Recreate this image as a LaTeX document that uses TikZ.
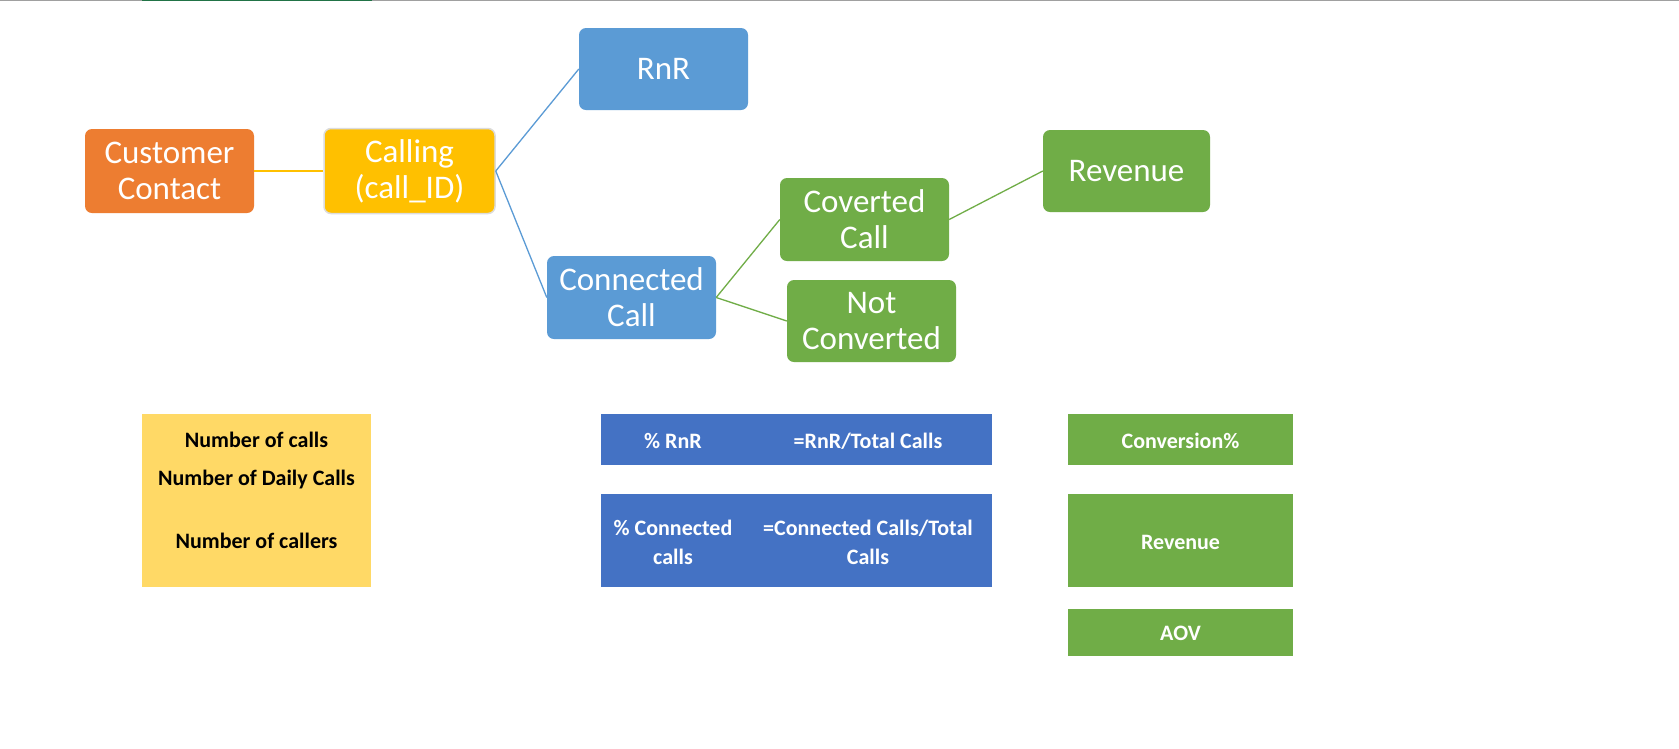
\documentclass[tikz,border=0pt]{standalone}
\usepackage{fontspec}
\setmainfont{Carlito}
\definecolor{cOrange}{HTML}{ED7D31}
\definecolor{cGold}{HTML}{FFC000}
\definecolor{cSky}{HTML}{5B9BD5}
\definecolor{cGreen}{HTML}{70AD47}
\definecolor{cBlue}{HTML}{4472C4}
\definecolor{cPale}{HTML}{FFD966}
\definecolor{cRule}{HTML}{A0A0A0}
\definecolor{cXl}{HTML}{217346}
\definecolor{cEdge}{HTML}{DCDCDC}
\tikzset{
  topbox/.style={rounded corners=7pt, inner sep=0pt, text=white, align=center,
    font=\fontsize{33}{36}\selectfont},
  flatbox/.style={inner sep=0pt, draw=none},
  lbl/.style={inner sep=0pt, align=center, font=\fontsize{22}{29}\selectfont\bfseries},
  link/.style={line width=1.3pt}
}
\begin{document}
\begin{tikzpicture}[x=1pt,y=-1pt]
\useasboundingbox (0,0) rectangle (1679,748);
\fill[white] (0,0) rectangle (1679,748);
% top rule
\fill[cRule] (0,0) rectangle (1679,1.2);
\fill[cXl] (142,0) rectangle (372,1.4);

% tree nodes
\node[topbox, fill=cOrange, minimum width=169pt, minimum height=84pt] (cust) at (169.5,171) {Customer\\Contact};
\node[topbox, fill=cGold, draw=cEdge, line width=1.5pt, minimum width=171pt, minimum height=85pt] (call) at (409.5,171) {Calling\\(call\_ID)};
\node[topbox, fill=cSky, minimum width=169pt, minimum height=82pt] (rnr) at (663.5,69) {RnR};
\node[topbox, fill=cSky, minimum width=169pt, minimum height=83pt] (conn) at (631.5,297.5) {Connected\\Call};
\node[topbox, fill=cGreen, minimum width=169pt, minimum height=83pt] (conv) at (864.5,219.5) {Coverted\\Call};
\node[topbox, fill=cGreen, minimum width=169pt, minimum height=82pt] (notc) at (871.5,321) {Not\\Converted};
\node[topbox, fill=cGreen, minimum width=167pt, minimum height=82pt] (rev) at (1126.5,171) {Revenue};

% connectors
\draw[link, cGold] (cust.east) -- (call.west);
\draw[link, cSky] (call.east) -- (rnr.west);
\draw[link, cSky] (call.east) -- (conn.west);
\draw[link, cGreen] (conn.east) -- (conv.west);
\draw[link, cGreen] (conn.east) -- (notc.west);
\draw[link, cGreen] (conv.east) -- (rev.west);

% bottom: yellow metrics
\node[flatbox, fill=cPale, minimum width=229pt, minimum height=173pt] (ybox) at (256.5,500.5) {};
\node[lbl, text=black] (y1) at (256.5,440) {Number of calls};
\node[lbl, text=black] (y2) at (256.5,480) {Number of Daily Calls};
\node[lbl, text=black] (y3) at (256.5,541) {Number of callers};

% bottom: blue metrics
\node[flatbox, fill=cBlue, minimum width=391pt, minimum height=51pt] (b1) at (796.5,439.5) {};
\node[flatbox, fill=cBlue, minimum width=391pt, minimum height=93pt] (b2) at (796.5,540.5) {};
\node[lbl, text=white] (b1l) at (673,441) {\% RnR};
\node[lbl, text=white] (b1r) at (868,441) {=RnR/Total Calls};
\node[lbl, text=white] (b2l) at (673,542.5) {\% Connected\\calls};
\node[lbl, text=white] (b2r) at (868,542.5) {=Connected Calls/Total\\Calls};

% bottom: green metrics
\node[flatbox, fill=cGreen, minimum width=225pt, minimum height=51pt] (g1) at (1180.5,439.5) {};
\node[flatbox, fill=cGreen, minimum width=225pt, minimum height=93pt] (g2) at (1180.5,540.5) {};
\node[flatbox, fill=cGreen, minimum width=225pt, minimum height=47pt] (g3) at (1180.5,632.5) {};
\node[lbl, text=white] (g1t) at (1180.5,441) {Conversion\%};
\node[lbl, text=white] (g2t) at (1180.5,542) {Revenue};
\node[lbl, text=white] (g3t) at (1180.5,633) {AOV};
\end{tikzpicture}
\end{document}
